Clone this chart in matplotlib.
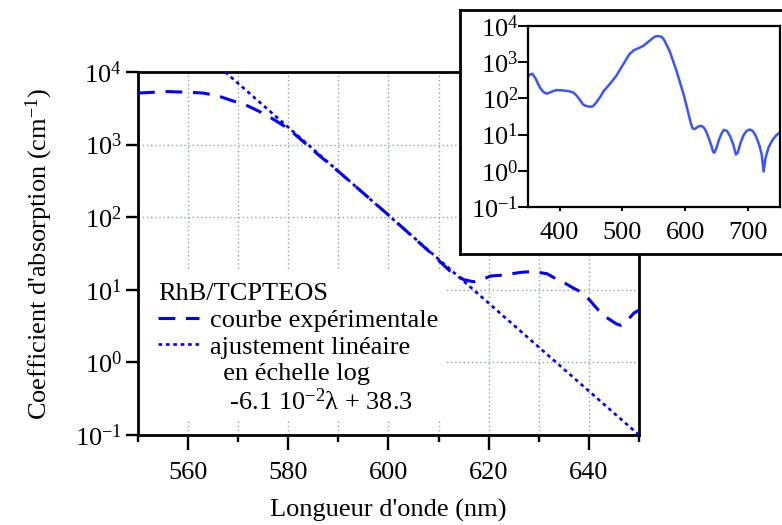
import numpy as np
import matplotlib
matplotlib.use("Agg")
import matplotlib.pyplot as plt
from matplotlib.lines import Line2D
from matplotlib.patches import Rectangle
from matplotlib.ticker import FixedLocator, NullLocator, FuncFormatter

# experimental curve near the band edge (nm, log10 of absorption coefficient)
exp_nm = [550, 553, 556, 560, 563, 566, 569, 572, 574.4, 576.5, 578.4, 580, 583, 586,
          590, 595, 600, 605, 608.4, 610.4, 612.4, 615, 617, 619, 620.4, 622.4, 624.5,
          626.4, 628.4, 630, 631.7, 633.7, 635.5, 637, 638.7, 640, 641, 642.4, 643.5,
          644.4, 645.5, 646.4, 647, 647.7, 649, 650]
exp_log = [3.71, 3.72, 3.73, 3.72, 3.71, 3.67, 3.60, 3.53, 3.45, 3.37, 3.29, 3.22, 3.04, 2.86,
           2.63, 2.33, 2.03, 1.72, 1.51, 1.38, 1.25, 1.14, 1.11, 1.15, 1.19, 1.20, 1.22,
           1.24, 1.25, 1.24, 1.22, 1.14, 1.08, 1.02, 0.96, 0.87, 0.79, 0.68, 0.62,
           0.58, 0.53, 0.51, 0.53, 0.58, 0.68, 0.72]

# linear fit in log scale, read at the two ends of the drawn line
fit_nm = [567.4, 650]
fit_log = [4.0, -1.0]

# full spectrum shown in the inset
full_nm = [350, 353, 357, 362, 366, 370, 375, 380, 387, 395, 405, 415, 422, 427, 432, 437,
           442, 448, 453, 458, 465, 470, 480, 490, 498, 505, 511, 518, 527, 533, 540, 547,
           552, 557, 562, 566, 570, 575, 580, 586, 592, 598, 603, 608, 611, 614, 617, 621,
           625, 629, 633, 637, 641, 644, 646, 649, 653, 657, 661, 666, 671, 676, 680, 683,
           687, 692, 697, 702, 707, 712, 717, 721, 724, 727, 732, 738, 744, 750]
full_log = [2.60, 2.66, 2.68, 2.55, 2.40, 2.27, 2.17, 2.13, 2.18, 2.23, 2.22, 2.20, 2.16, 2.08,
            1.97, 1.84, 1.79, 1.77, 1.78, 1.88, 2.05, 2.20, 2.40, 2.62, 2.85, 3.05, 3.22, 3.33,
            3.40, 3.45, 3.55, 3.65, 3.71, 3.72, 3.70, 3.62, 3.48, 3.30, 3.05, 2.75, 2.40, 2.05,
            1.70, 1.35, 1.18, 1.15, 1.18, 1.23, 1.24, 1.20, 1.08, 0.90, 0.70, 0.52, 0.50, 0.62,
            0.85, 1.02, 1.13, 1.10, 0.95, 0.72, 0.45, 0.50, 0.75, 0.98, 1.10, 1.14, 1.10, 0.95,
            0.72, 0.45, -0.02, 0.35, 0.65, 0.85, 0.98, 1.06]

decades = [0.1, 1, 10, 100, 1000, 10000]

plt.rcParams['font.family'] = ['Liberation Serif', 'DejaVu Serif']
plt.rcParams['mathtext.fontset'] = 'custom'
plt.rcParams['mathtext.rm'] = 'Liberation Serif'
plt.rcParams['mathtext.it'] = 'Liberation Serif:italic'
plt.rcParams['font.size'] = 19


def pow10(v, pos):
    return r'$10^{%d}$' % int(round(np.log10(v)))


fig = plt.figure(figsize=(7.82, 5.25), dpi=100)

# main plot
ax = fig.add_axes([0.1765, 0.1714, 0.6406, 0.6915])
ax.set_yscale('log')
ax.plot(np.array(exp_nm), np.power(10.0, exp_log), color='#0000ff', lw=2.2,
        ls=(0, (5.5, 3.5)), zorder=3)
ax.plot(np.array(fit_nm), np.power(10.0, fit_log), color='#0000ff', lw=1.9,
        ls=(0, (1.4, 1.4)), zorder=3)
ax.set_xlim(550, 650)
ax.set_ylim(0.1, 10000)
ax.xaxis.set_major_locator(FixedLocator([560, 580, 600, 620, 640]))
ax.xaxis.set_minor_locator(FixedLocator([550, 570, 590, 610, 630, 650]))
ax.yaxis.set_major_locator(FixedLocator(decades))
ax.yaxis.set_minor_locator(NullLocator())
ax.yaxis.set_major_formatter(FuncFormatter(pow10))
ax.tick_params(axis='x', which='major', direction='out', length=10.5, width=1.7, pad=9)
ax.tick_params(axis='x', which='minor', direction='out', length=5, width=1.7)
ax.tick_params(axis='y', which='major', direction='out', length=8.5, width=1.7, pad=3)
ax.grid(True, which='both', axis='x', color='#8fa3ad', ls=(0, (1, 2)), lw=1)
ax.grid(True, which='major', axis='y', color='#8fa3ad', ls=(0, (1, 2)), lw=1)
for s in ax.spines.values():
    s.set_linewidth(2)
ax.set_xlabel("Longueur d'onde (nm)", labelpad=11)
ax.set_ylabel("Coefficient d'absorption (cm$^{-1}$)", labelpad=14)

# white patch behind the legend block (hides the grid there)
ax.add_patch(Rectangle((0, 0.041), 0.617, 0.41, transform=ax.transAxes,
                       facecolor='white', edgecolor='none', zorder=1.8))

handles = [Line2D([], [], color='#0000ff', lw=2.2, ls=(0, (5.5, 3.5))),
           Line2D([], [], color='#0000ff', lw=1.9, ls=(0, (1.4, 1.4))),
           Line2D([], [], color='none'),
           Line2D([], [], color='none')]
labels = ["courbe expérimentale", "ajustement linéaire",
          "  en échelle log", "   -6.1 10$^{-2}$λ + 38.3"]
leg = ax.legend(handles, labels, title='RhB/TCPTEOS', loc='upper left',
                bbox_to_anchor=(0.04, 0.418), borderaxespad=0, borderpad=0,
                frameon=False, handlelength=1.55, handletextpad=0.42,
                labelspacing=0.12, alignment='left', title_fontsize=19)
leg.set_zorder(2.6)

# inset frame
frame = fig.add_axes([0.588, 0.516, 0.42, 0.465])
frame.set_xticks([])
frame.set_yticks([])
frame.set_facecolor('white')
for s in frame.spines.values():
    s.set_linewidth(2)
frame.set_zorder(5)

ins = fig.add_axes([0.6752, 0.6057, 0.3222, 0.3448])
ins.set_zorder(6)
ins.set_yscale('log')
ins.plot(np.array(full_nm), np.power(10.0, full_log), color='#3a55ff', lw=1.8)
ins.set_xlim(350, 750)
ins.set_ylim(0.1, 10000)
ins.xaxis.set_major_locator(FixedLocator([400, 500, 600, 700]))
ins.yaxis.set_major_locator(FixedLocator(decades))
ins.yaxis.set_minor_locator(NullLocator())
ins.yaxis.set_major_formatter(FuncFormatter(pow10))
ins.tick_params(axis='x', direction='out', length=3, width=1.4, pad=8)
ins.tick_params(axis='y', direction='out', length=7, width=1.4, pad=0)
for s in ins.spines.values():
    s.set_linewidth(1.6)

fig.savefig('out.png', dpi=100)
